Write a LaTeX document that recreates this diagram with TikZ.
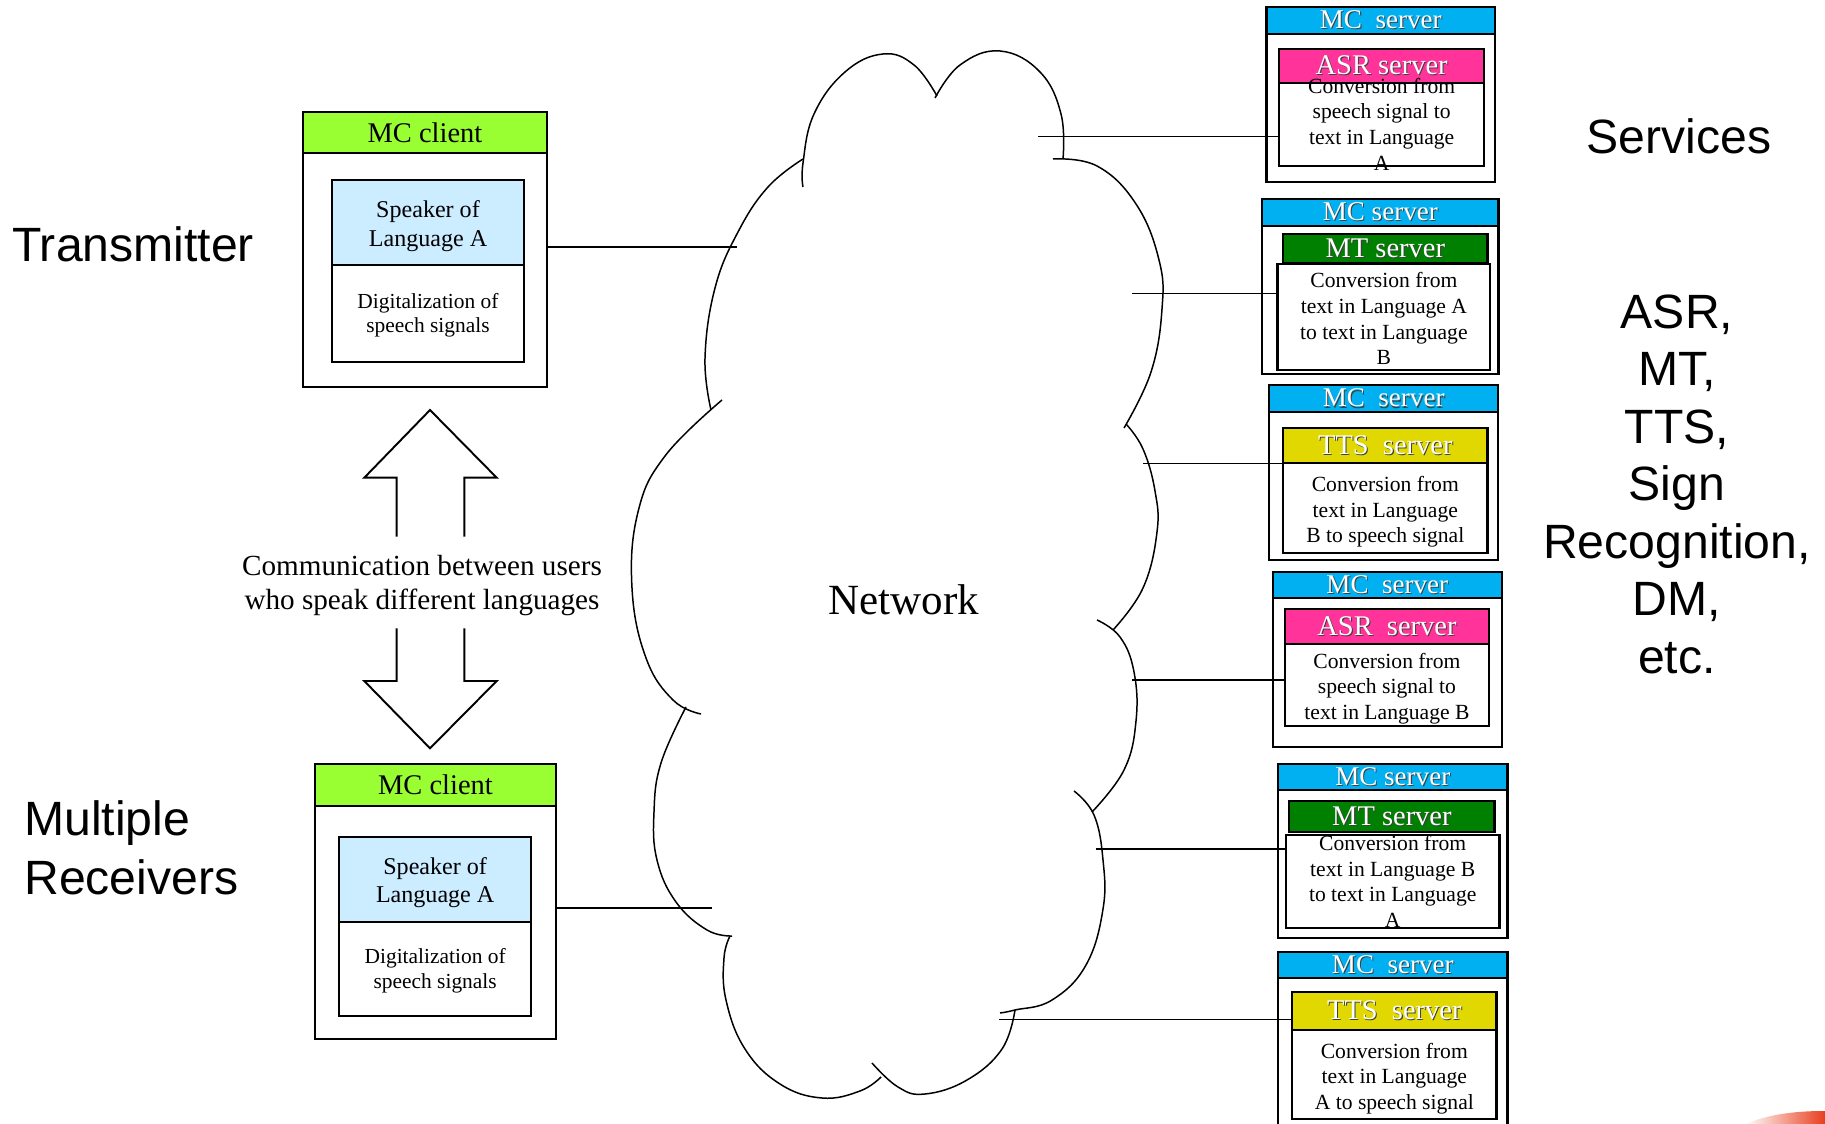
\documentclass[tikz,border=0pt]{standalone}
\usepackage{fontspec}
\setmainfont{Liberation Serif}
\setsansfont{Liberation Sans}
\usetikzlibrary{fit}
\definecolor{mclime}{RGB}{153,255,51}
\definecolor{spkblue}{RGB}{204,236,255}
\definecolor{mccyan}{RGB}{0,176,240}
\definecolor{asrpink}{RGB}{255,51,153}
\definecolor{mtgreen}{RGB}{0,128,0}
\definecolor{ttsyellow}{RGB}{224,216,0}
\definecolor{swoosh}{RGB}{232,62,30}
\newcommand\shtext[1]{\makebox[0pt][l]{\kern0.6pt\raisebox{-0.6pt}{\color{black!75}#1}}{\color{white}#1}}
\begin{document}
\begin{tikzpicture}
[x=0.02cm,y=-0.02cm,
box/.style={draw,line width=1.3pt,inner sep=0pt},
client/.style={box,fill=white},
client head/.style={box,fill=mclime},
speaker/.style={box,fill=spkblue},
digit/.style={box,fill=white},
server/.style={box,fill=white},
mc head/.style={box,fill=mccyan},
conv/.style={box,fill=white},
txt/.style={inner sep=0pt,align=center},
head text/.style={txt,font=\fontsize{16.2}{19}\selectfont},
speaker text/.style={txt,font=\fontsize{13.7}{16.3}\selectfont},
digit text/.style={txt,font=\fontsize{12.2}{14}\selectfont},
mc text/.style={txt,font=\fontsize{15.4}{18}\selectfont},
conv text/.style={txt,font=\fontsize{12.3}{14.6}\selectfont},
wire/.style={line width=0.9pt},
lobe/.style={line width=0.85pt},
fat arrow/.style={line width=1.1pt,line join=miter},
big label/.style={font=\sffamily\fontsize{27.4}{33}\selectfont,inner sep=0pt}]
\useasboundingbox (0,0) rectangle (1825,1124);

% left labels
\node[big label,anchor=base west] (tx) at (12,261.7) {Transmitter};
\node[big label,anchor=west,align=left,font=\sffamily\fontsize{27.4}{33.75}\selectfont] (rx) at (24,848) {Multiple\\Receivers};

% transmitter client
\node[client,fit={(303,112) (547,386.7)}] (tcl) {};
\node[client head,fit={(303,112) (547,152.7)}] (tclh) {};
\node[speaker,fit={(332,180) (524,265)}] (tspk) {};
\node[digit,fit={(332,265) (524,361.7)}] (tdig) {};
\node[head text] at (tclh.center) {MC client};
\node[speaker text] at ([yshift=-0.07cm]tspk.center) {Speaker of\\Language A};
\node[digit text] at ([yshift=-0.04cm]tdig.center) {Digitalization of\\speech signals};

% receiver client
\node[client,fit={(315,764) (556,1039.3)}] (rcl) {};
\node[client head,fit={(315,764) (556,806)}] (rclh) {};
\node[speaker,fit={(339.3,836.7) (531,921.7)}] (rspk) {};
\node[digit,fit={(339.3,921.7) (531,1016)}] (rdig) {};
\node[head text] at (rclh.center) {MC client};
\node[speaker text] at ([yshift=-0.07cm]rspk.center) {Speaker of\\Language A};
\node[digit text] at ([yshift=-0.04cm]rdig.center) {Digitalization of\\speech signals};

% two-way arrow between the clients
\node[txt,font=\fontsize{16.6}{19.5}\selectfont] (comm) at (422,585.4) {Communication between users\\who speak different languages};
\coordinate (uptip) at (430,410);
\coordinate (dntip) at (430,748.3);
\draw[fat arrow] (uptip) ++(-33.3,126.7) |- ++(-32.4,-59) -- (uptip) -- ++(66.7,67.7) -| ++(-32.4,59);
\draw[fat arrow] (dntip) ++(-33.3,-120) |- ++(-32.4,52.7) -- (dntip) -- ++(66.7,-67.3) -| ++(-32.4,-52.7);

% the network cloud, lobe by lobe
\draw[lobe] plot[smooth,tension=0.7] coordinates {(711,410) (705,358) (715,288) (738,232) (768,187) (803,159)};
\draw[lobe] plot[smooth,tension=0.7] coordinates {(803,187) (803,163) (814,114) (845,72) (883,54) (914,65) (937,96)};
\draw[lobe] plot[smooth,tension=0.7] coordinates {(935,98) (960,65) (1000,51) (1040,72) (1061,114) (1063,159)};
\draw[lobe] plot[smooth,tension=0.7] coordinates {(1053,159) (1097,166) (1136,204) (1159,260) (1162,309) (1151,372) (1124,428)};
\draw[lobe] plot[smooth,tension=0.7] coordinates {(1126,424) (1143,449) (1155,491) (1157,532) (1143,588) (1113,630)};
\draw[lobe] plot[smooth,tension=0.7] coordinates {(1097,620) (1120,637) (1134,672) (1136,721) (1124,770) (1092,812)};
\draw[lobe] plot[smooth,tension=0.7] coordinates {(1074,791) (1094,815) (1103,860) (1103,909) (1086,965) (1052,1000) (1015,1010) (1000,1013)};
\draw[lobe] plot[smooth,tension=0.7] coordinates {(1015,1010) (1002,1049) (967,1080) (925,1094) (898,1087) (872,1063)};
\draw[lobe] plot[smooth,tension=0.7] coordinates {(881,1077) (860,1091) (822,1098) (780,1084) (745,1049) (726,1000) (724,958) (730,936)};
\draw[lobe] plot[smooth,tension=0.7] coordinates {(732,936) (707,930) (676,902) (657,860) (654,812) (661,763) (686,707)};
\draw[lobe] plot[smooth,tension=0.7] coordinates {(701,714) (673,700) (646,658) (632,588) (638,512) (665,456) (722,400)};
\node[txt,font=\fontsize{24.5}{29}\selectfont,anchor=base] (net) at (904,614.8) {Network};

% clients to network
\coordinate (tnet) at (737,247);
\coordinate (rnet) at (712,908);
\draw[wire] (tnet -| tcl.east) -- (tnet);
\draw[wire] (rnet -| rcl.east) -- (rnet);

% servers
\node[server,fit={(1266.5,7.3) (1495,182.3)}] (sv1) {};
\node[mc head,fit={(1266.5,7.3) (1495,34)}] (sv1h) {};
\node[box,fill=asrpink,fit={(1279.3,49) (1484,82.7)}] (asr1) {};
\node[conv,fit={(1279.3,82.7) (1484,165.7)}] (asr1b) {};
\node[mc text] at (sv1h.center) {\shtext{MC~~server}};
\node[head text] at (asr1.center) {\shtext{ASR server}};
\node[conv text] at (asr1b.center) {Conversion from\\speech signal to\\text in Language\\A};

\node[server,fit={(1262.1,199.3) (1498.6,374.3)}] (sv2) {};
\node[mc head,fit={(1262.1,199.3) (1498.6,226)}] (sv2h) {};
\node[box,fill=mtgreen,fit={(1283,234.3) (1487.6,263.3)}] (mt1) {};
\node[conv,fit={(1277.5,264.3) (1490.2,370)}] (mt1b) {};
\node[mc text] at (sv2h.center) {\shtext{MC server}};
\node[head text] at (mt1.center) {\shtext{MT server}};
\node[conv text] at ([yshift=-0.03cm]mt1b.center) {Conversion from\\text in Language A\\to text in Language\\B};

\node[server,fit={(1269,385) (1498.3,560)}] (sv3) {};
\node[mc head,fit={(1269,385) (1498.3,412.3)}] (sv3h) {};
\node[box,fill=ttsyellow,fit={(1283,427.7) (1487.6,463.3)}] (tts1) {};
\node[conv,fit={(1283,463.3) (1487.6,552.7)}] (tts1b) {};
\node[mc text] at (sv3h.center) {\shtext{MC~~server}};
\node[head text] at (tts1.center) {\shtext{TTS~~server}};
\node[conv text] at ([yshift=-0.08cm]tts1b.center) {Conversion from\\text in Language\\B to speech signal};

\node[server,fit={(1272.7,571.7) (1501.9,746.7)}] (sv4) {};
\node[mc head,fit={(1272.7,571.7) (1501.9,598.3)}] (sv4h) {};
\node[box,fill=asrpink,fit={(1284.8,609) (1489.1,644)}] (asr2) {};
\node[conv,fit={(1284.8,644) (1489.1,726)}] (asr2b) {};
\node[mc text] at (sv4h.center) {\shtext{MC~~server}};
\node[head text] at (asr2.center) {\shtext{ASR~~server}};
\node[conv text] at ([yshift=-0.07cm]asr2b.center) {Conversion from\\speech signal to\\text in Language B};

\node[server,fit={(1278.2,764) (1507.4,938.3)}] (sv5) {};
\node[mc head,fit={(1278.2,764) (1507.4,790)}] (sv5h) {};
\node[box,fill=mtgreen,fit={(1289.2,801) (1494.6,831.7)}] (mt2) {};
\node[conv,fit={(1286,835) (1499.4,927.7)}] (mt2b) {};
\node[mc text] at (sv5h.center) {\shtext{MC server}};
\node[head text] at (mt2.center) {\shtext{MT server}};
\node[conv text] at (mt2b.center) {Conversion from\\text in Language B\\to text in Language\\A};

\node[server,fit={(1278.2,951.7) (1507.4,1140)}] (sv6) {};
\node[mc head,fit={(1278.2,951.7) (1507.4,978.3)}] (sv6h) {};
\node[box,fill=ttsyellow,fit={(1292.2,991.7) (1496.4,1030)}] (tts2) {};
\node[conv,fit={(1292.2,1030) (1496.4,1119.3)}] (tts2b) {};
\node[mc text] at (sv6h.center) {\shtext{MC~~server}};
\node[head text] at (tts2.center) {\shtext{TTS~~server}};
\node[conv text] at ([yshift=-0.08cm]tts2b.center) {Conversion from\\text in Language\\A to speech signal};

% network to servers
\coordinate (n1) at (1038,136.5);
\coordinate (n2) at (1132,293.3);
\coordinate (n3) at (1143.4,463.3);
\coordinate (n4) at (1132,680);
\coordinate (n5) at (1095.6,849);
\coordinate (n6) at (999,1019.3);
\draw[wire] (n1) -- (n1 -| asr1b.west);
\draw[wire] (n2) -- (n2 -| mt1b.west);
\draw[wire] (n3) -- (n3 -| tts1.west);
\draw[wire] (n4) -- (n4 -| asr2b.west);
\draw[wire] (n5) -- (n5 -| mt2b.west);
\draw[wire] (n6) -- (n6 -| tts2.west);

% right labels
\node[big label,anchor=base] (svc) at (1679,154) {Services};
\node[big label,align=center,font=\sffamily\fontsize{27.4}{32.7}\selectfont] (list) at (1677,484.2) {ASR,\\MT,\\TTS,\\Sign\\Recognition,\\DM,\\etc.};

% corner swoosh
\shade[left color=white,right color=swoosh] (1745,1124) .. controls (1772,1113) and (1800,1111) .. (1825,1111) -- (1825,1124) -- cycle;
\end{tikzpicture}
\end{document}
